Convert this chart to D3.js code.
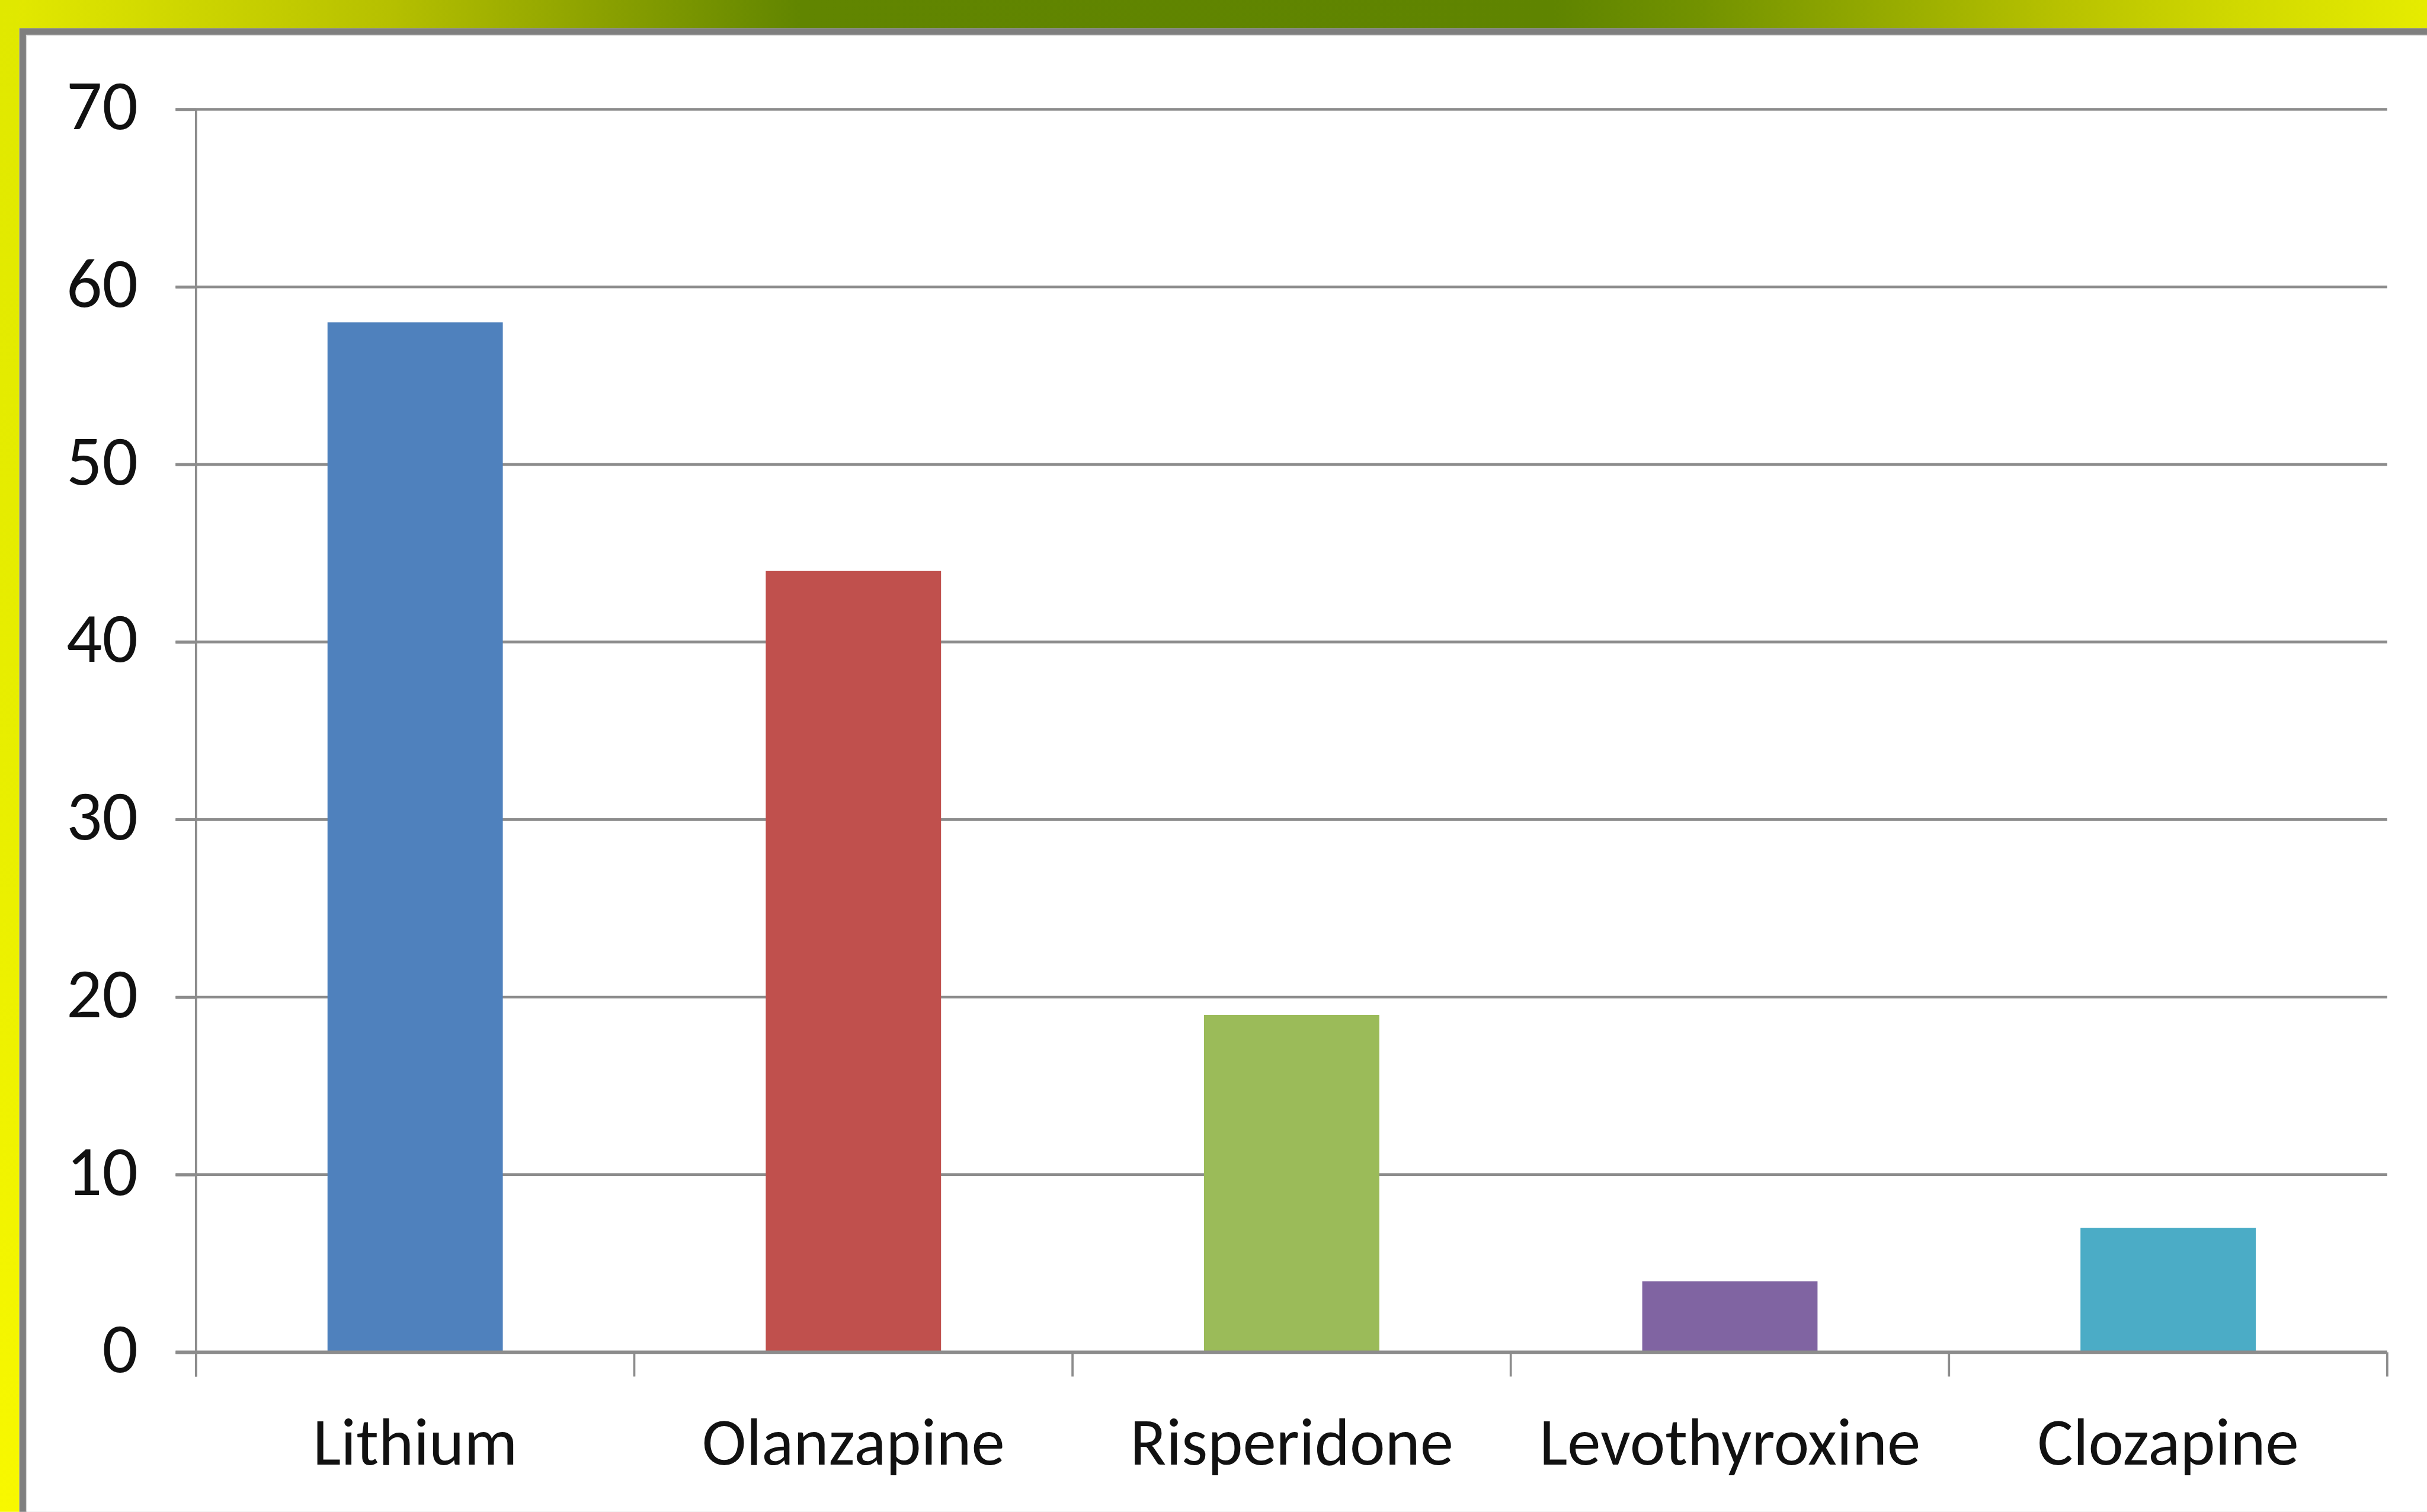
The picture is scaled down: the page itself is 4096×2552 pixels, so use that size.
<!DOCTYPE html>
<html>
<head>
<meta charset="utf-8">
<script src="https://cdn.jsdelivr.net/npm/d3@7"></script>
<style>
  html, body { margin: 0; padding: 0; background: #ffffff; overflow: hidden; }
  svg { display: block; }
</style>
</head>
<body>
<script>
// ---- data ----
const categories = ["Lithium", "Olanzapine", "Risperidone", "Levothyroxine", "Clozapine"];
const values = [58, 44, 19, 4, 7];
const barColors = ["#4f81bd", "#c0504d", "#9bbb59", "#8064a2", "#4bacc6"];
const yTickValues = [0, 10, 20, 30, 40, 50, 60, 70];

// ---- layout (reference coordinates, scaled to window) ----
const REF_W = 4395, REF_H = 2738;
const W = 4096, H = 2552;
const k = W / REF_W;

const plotLeft = 355, plotRight = 4323, plotTop = 198, plotBottom = 2449;
const FONT = "Carlito, Calibri, Lato, 'Open Sans', sans-serif";
const FS_X = 121;
const FS_Y = 128;

const svg = d3.select("body").append("svg")
  .attr("width", W).attr("height", H)
  .attr("viewBox", `0 0 ${W} ${H}`);

const defs = svg.append("defs");
const topGrad = defs.append("linearGradient").attr("id", "topGrad")
  .attr("x1", "0").attr("y1", "0").attr("x2", "1").attr("y2", "0");
[[0, "#e4ea00"], [0.16, "#b6c000"], [0.25, "#8aa000"], [0.33, "#618500"],
 [0.64, "#5f8400"], [0.70, "#729200"], [0.85, "#b8c200"], [0.92, "#d0d800"], [1, "#e6ec00"]]
  .forEach(([o, c]) => topGrad.append("stop").attr("offset", o).attr("stop-color", c));
const leftGrad = defs.append("linearGradient").attr("id", "leftGrad")
  .attr("x1", "0").attr("y1", "0").attr("x2", "0").attr("y2", "1");
[[0, "#e0e800"], [0.5, "#e8ee00"], [1, "#f8f800"]]
  .forEach(([o, c]) => leftGrad.append("stop").attr("offset", o).attr("stop-color", c));

const root = svg.append("g").attr("transform", `scale(${k})`);

// background frame
root.append("rect").attr("x", 0).attr("y", 0).attr("width", REF_W).attr("height", 51)
  .attr("fill", "url(#topGrad)");
root.append("rect").attr("x", 0).attr("y", 0).attr("width", 35).attr("height", REF_H)
  .attr("fill", "url(#leftGrad)");
root.append("rect").attr("x", 35).attr("y", 51).attr("width", REF_W - 35).attr("height", REF_H - 51)
  .attr("fill", "#7f7f7f");
root.append("rect").attr("x", 47).attr("y", 63).attr("width", REF_W - 47).attr("height", REF_H - 63)
  .attr("fill", "#d8d8d8");
root.append("rect").attr("x", 49).attr("y", 65).attr("width", REF_W - 49).attr("height", REF_H - 65)
  .attr("fill", "#ffffff");

// scales
const x = d3.scaleBand().domain(categories).range([plotLeft, plotRight])
  .paddingInner(0.6).paddingOuter(0.3);
const y = d3.scaleLinear().domain([0, 70]).range([plotBottom, plotTop]);

// gridlines
root.append("g").selectAll("line").data(yTickValues.filter(v => v > 0)).join("line")
  .attr("x1", plotLeft - 37).attr("x2", plotRight)
  .attr("y1", d => y(d)).attr("y2", d => y(d))
  .attr("stroke", "#8c8c8c").attr("stroke-width", 5);

// bars
root.append("g").selectAll("rect").data(categories).join("rect")
  .attr("x", d => x(d))
  .attr("width", x.bandwidth())
  .attr("y", (d, i) => y(values[i]))
  .attr("height", (d, i) => y(0) - y(values[i]))
  .attr("fill", (d, i) => barColors[i]);

// y axis
const yAxis = root.append("g").attr("transform", `translate(${plotLeft},0)`)
  .call(d3.axisLeft(y).tickValues(yTickValues).tickSize(37).tickPadding(68).tickSizeOuter(0));
yAxis.select(".domain").attr("stroke", "#8c8c8c").attr("stroke-width", 4)
  .attr("d", `M0,${plotTop}V${plotBottom + 44}`);
yAxis.selectAll(".tick line").attr("stroke", "#8c8c8c").attr("stroke-width", 5);
yAxis.selectAll(".tick text")
  .attr("font-family", FONT).attr("font-size", FS_Y).attr("fill", "#111111")
  .attr("dy", "0.28em");

// x axis
const xAxis = root.append("g").attr("transform", `translate(0,${plotBottom})`)
  .call(d3.axisBottom(x).tickSize(0).tickPadding(0));
xAxis.select(".domain").attr("stroke", "#8c8c8c").attr("stroke-width", 6)
  .attr("d", `M${plotLeft - 37},0H${plotRight}`);
xAxis.selectAll(".tick text")
  .attr("font-family", FONT).attr("font-size", FS_X).attr("fill", "#111111")
  .attr("y", 204).attr("dy", "0");
const step = x.step();
const boundaries = d3.range(categories.length + 1).map(i => x.range()[0] + i * step);
xAxis.append("g").selectAll("line").data(boundaries).join("line")
  .attr("x1", d => d).attr("x2", d => d)
  .attr("y1", 0).attr("y2", 44)
  .attr("stroke", "#8c8c8c").attr("stroke-width", 4);
</script>
</body>
</html>
